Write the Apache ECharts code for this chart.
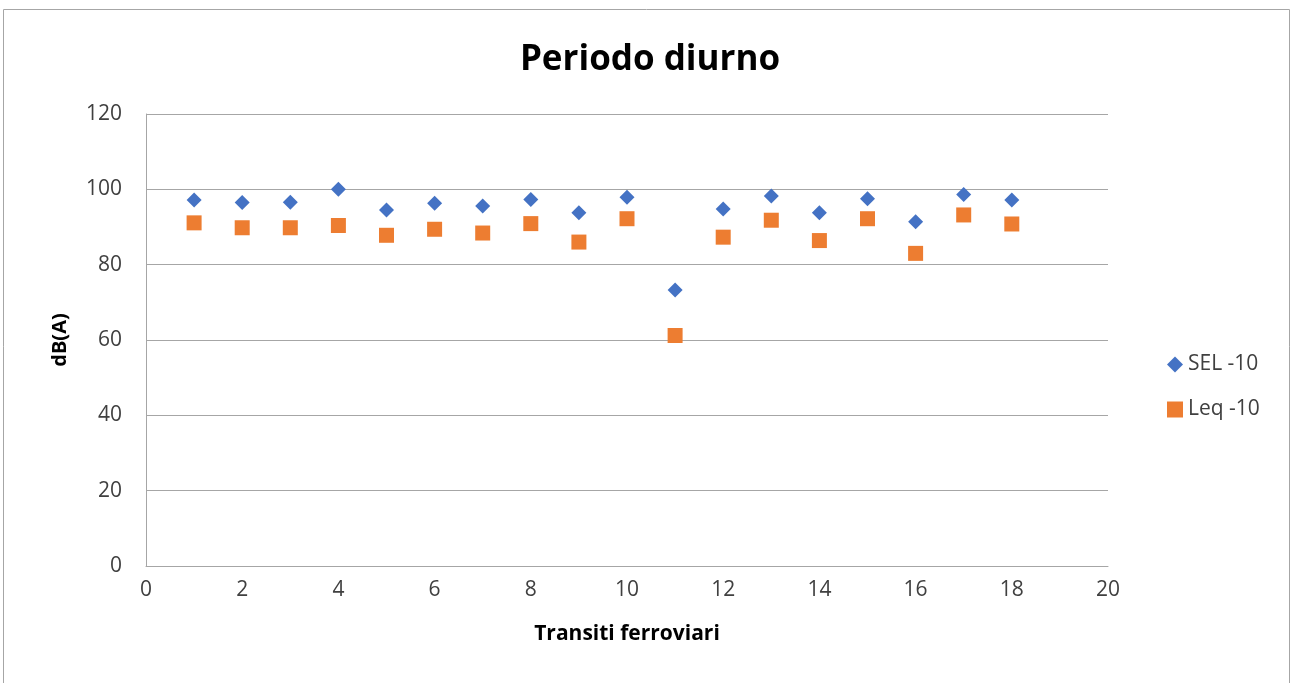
<!DOCTYPE html>
<html><head><meta charset="utf-8">
<script src="https://cdn.jsdelivr.net/npm/echarts@6/dist/echarts.min.js"></script>
<style>html,body{margin:0;padding:0;background:#fff}#c{width:1293px;height:683px}</style>
</head><body><div id="c"></div>
<script>
const transits = [1,2,3,4,5,6,7,8,9,10,11,12,13,14,15,16,17,18];
const sel = [97.2,96.5,96.6,100.0,94.5,96.3,95.6,97.3,93.8,97.9,73.3,94.8,98.2,93.8,97.5,91.4,98.6,97.2];
const leq = [91.1,89.8,89.8,90.4,87.8,89.4,88.4,90.9,86.0,92.2,61.2,87.3,91.8,86.4,92.2,83.0,93.2,90.8];
const xTicks = [0,2,4,6,8,10,12,14,16,18,20];
const yTicks = [0,20,40,60,80,100,120];
const F = '"Open Sans", sans-serif';
const chart = echarts.init(document.getElementById('c'));
chart.setOption({
  animation:false,
  title:{text:'Periodo diurno',left:645,top:38,textAlign:'center',textStyle:{fontFamily:F,fontSize:35,fontWeight:'bold',color:'#000'}},
  graphic:[{type:'rect',shape:{x:3.5,y:9.5,width:1286,height:690},style:{fill:'none',stroke:'#a6a6a6',lineWidth:1},silent:true}],
  legend:{orient:'vertical',left:1162,top:349,itemGap:24,itemWidth:16,itemHeight:16,
    textStyle:{fontFamily:F,fontSize:21,color:'#404040'},
    data:[{name:'SEL -10',icon:'diamond'},{name:'Leq -10',icon:'rect'}]},
  grid:{left:146,right:185,top:114,bottom:117},
  xAxis:{type:'value',min:xTicks[0],max:xTicks[xTicks.length-1],interval:2,
    name:'Transiti ferroviari',nameLocation:'middle',nameGap:58,
    nameTextStyle:{fontFamily:F,fontSize:21,fontWeight:'bold',color:'#000'},
    axisLine:{show:true,lineStyle:{color:'#a6a6a6',width:1}},axisTick:{show:false},
    splitLine:{show:false},
    axisLabel:{fontFamily:F,fontSize:21,color:'#404040',margin:14}},
  yAxis:{type:'value',min:yTicks[0],max:yTicks[yTicks.length-1],interval:20,
    name:'dB(A)',nameLocation:'middle',nameGap:76,nameRotate:90,
    nameTextStyle:{fontFamily:F,fontSize:20,fontWeight:'bold',color:'#000'},
    axisLine:{show:true,lineStyle:{color:'#a6a6a6',width:1}},axisTick:{show:false},
    splitLine:{show:true,lineStyle:{color:'#a6a6a6',width:1}},
    axisLabel:{fontFamily:F,fontSize:21,color:'#404040',margin:24}},
  series:[
    {name:'SEL -10',type:'scatter',symbol:'diamond',symbolSize:15,itemStyle:{color:'#4472c4',opacity:1},
     data:transits.map((t,i)=>[t,sel[i]]),z:3},
    {name:'Leq -10',type:'scatter',symbol:'rect',symbolSize:15,itemStyle:{color:'#ed7d31',opacity:1},
     data:transits.map((t,i)=>[t,leq[i]]),z:2}
  ]
});
</script></body></html>
